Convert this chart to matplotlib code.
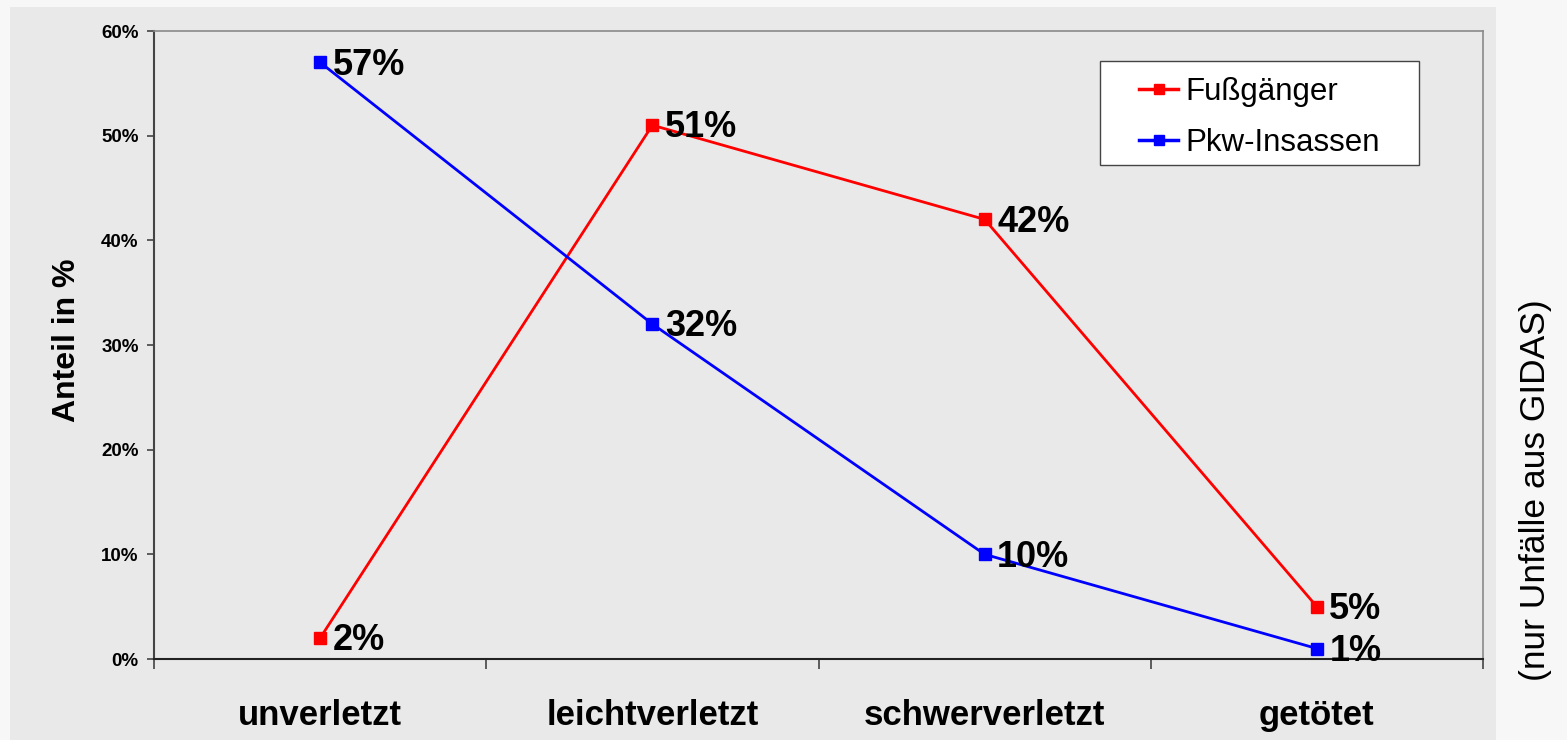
import matplotlib
matplotlib.use("Agg")
import matplotlib.pyplot as plt
from matplotlib.patches import Rectangle
from matplotlib.ticker import FixedLocator

# Verletzungsschwere je Verkehrsteilnehmergruppe
categories = ["unverletzt", "leichtverletzt", "schwerverletzt", "getötet"]
fussgaenger = [2, 51, 42, 5]
pkw_insassen = [57, 32, 10, 1]
y_ticks = [0, 10, 20, 30, 40, 50, 60]

W, H = 1567, 740
fig = plt.figure(figsize=(W / 100, H / 100), dpi=100)
fig.patch.set_facecolor("#f7f7f7")

# grey chart area behind the axes
fig.patches.append(Rectangle((10 / W, 0), (1496 - 10) / W, (740 - 7) / H,
                             transform=fig.transFigure, facecolor="#e9e9e9",
                             edgecolor="none", zorder=-10))

left, right, top, bottom = 154, 1483, 31, 659
ax = fig.add_axes([left / W, (H - bottom) / H, (right - left) / W, (bottom - top) / H])
ax.set_facecolor("#e9e9e9")

font = "Liberation Sans"
x = list(range(len(categories)))

ax.plot(x, fussgaenger, color="#ff0000", lw=2.0, marker="s", ms=8.5,
        mec="#ff0000", mfc="#ff0000", label="Fußgänger", zorder=3)
ax.plot(x, pkw_insassen, color="#0000ff", lw=2.0, marker="s", ms=8.5,
        mec="#0000ff", mfc="#0000ff", label="Pkw-Insassen", zorder=3)

for series in (fussgaenger, pkw_insassen):
    for xi, v in zip(x, series):
        ax.annotate(f"{v}%", (xi, v), xytext=(9, -2), textcoords="offset points",
                    ha="left", va="center", fontsize=26, fontweight="bold",
                    family=font, color="black", zorder=4, annotation_clip=False)

ax.set_xlim(-0.5, len(categories) - 0.5)
ax.set_ylim(0, 60)

ax.set_yticks(y_ticks)
ax.set_yticklabels([f"{t}%" for t in y_ticks], fontsize=13.5, fontweight="bold",
                   family=font)
ax.tick_params(axis="y", direction="out", length=5, width=1.2, color="#444444", pad=6)

ax.set_xticks(x)
ax.set_xticklabels(categories, fontsize=25, fontweight="bold", family=font)
ax.tick_params(axis="x", which="major", length=0, pad=29)
ax.xaxis.set_minor_locator(FixedLocator([i - 0.5 for i in range(len(categories) + 1)]))
ax.tick_params(axis="x", which="minor", direction="out", length=7, width=1.2,
               color="#444444")

for side in ("top", "right"):
    ax.spines[side].set_color("#8a8a8a")
    ax.spines[side].set_linewidth(1.2)
ax.spines["left"].set_color("#444444")
ax.spines["left"].set_linewidth(1.5)
ax.spines["bottom"].set_color("#222222")
ax.spines["bottom"].set_linewidth(1.5)

# legend box drawn separately, entries placed inside it
fig.patches.append(Rectangle((1100 / W, (H - 165) / H), (1419 - 1100) / W, (165 - 61) / H,
                             transform=fig.transFigure, facecolor="white",
                             edgecolor="#444444", linewidth=1.0, zorder=5))
leg = fig.legend(*ax.get_legend_handles_labels(), loc="center left",
                 bbox_to_anchor=(1139 / W, (H - 117.5) / H),
                 frameon=False, prop={"family": font, "size": 22.5},
                 handlelength=1.25, borderpad=0, labelspacing=0.65,
                 handletextpad=0.25, borderaxespad=0)
leg.set_zorder(6)
for h in leg.legend_handles:
    h.set_markersize(7)
    h.set_linewidth(2.5)

fig.text(67 / W, (H - 340) / H, "Anteil in %", rotation=90, ha="center", va="center",
         fontsize=23, fontweight="bold", family=font)
fig.text(1535 / W, (H - 490) / H, "(nur Unfälle aus GIDAS)", rotation=90,
         ha="center", va="center", fontsize=25.5, family=font)

fig.savefig("out.png", dpi=100, facecolor=fig.get_facecolor())
